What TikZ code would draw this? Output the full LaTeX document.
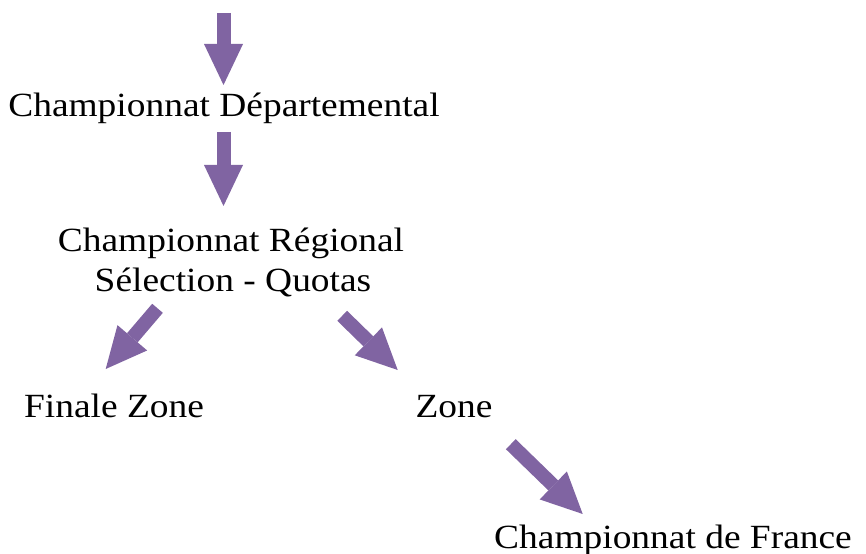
\documentclass[tikz,border=0pt]{standalone}
\usepackage{fontspec}
\setmainfont[FakeStretch=1.105]{Liberation Serif}
\usetikzlibrary{arrows.meta}
\definecolor{mauve}{HTML}{8064A2}
\tikzset{
  fleche/.style={line width=14bp, mauve, -{Triangle[width=39bp,length=41bp,line width=0pt]}},
  etape/.style={anchor=base, inner sep=0pt, font=\fontsize{34}{40}\selectfont}
}
\begin{document}
\begin{tikzpicture}[x=1bp,y=-1bp]
    \useasboundingbox (0,0) rectangle (866,554);
    % niveaux
    \node[etape] (dept) at (224,117) {Championnat Départemental};
    \node[etape] (reg) at (231,252) {Championnat Régional};
    \node[etape] (sel) at (233,292) {Sélection - Quotas};
    \node[etape] (finale) at (114,417) {Finale Zone};
    \node[etape] (zone) at (454,417) {Zone};
    \node[etape] (france) at (673,548) {Championnat de France};
    % fleches
    \coordinate (d1) at (223.5,13);   \coordinate (f1) at (223.5,85);
    \coordinate (d2) at (223.5,132);  \coordinate (f2) at (223.5,206);
    \coordinate (d3) at (157.5,308.3); \coordinate (f3) at (105.7,369);
    \coordinate (d4) at (342.2,315.8); \coordinate (f4) at (397.7,370);
    \coordinate (d5) at (510.8,444.2); \coordinate (f5) at (582.7,514);
    \draw[fleche] (d1) -- (f1);
    \draw[fleche] (d2) -- (f2);
    \draw[fleche] (d3) -- (f3);
    \draw[fleche] (d4) -- (f4);
    \draw[fleche] (d5) -- (f5);
\end{tikzpicture}
\end{document}
